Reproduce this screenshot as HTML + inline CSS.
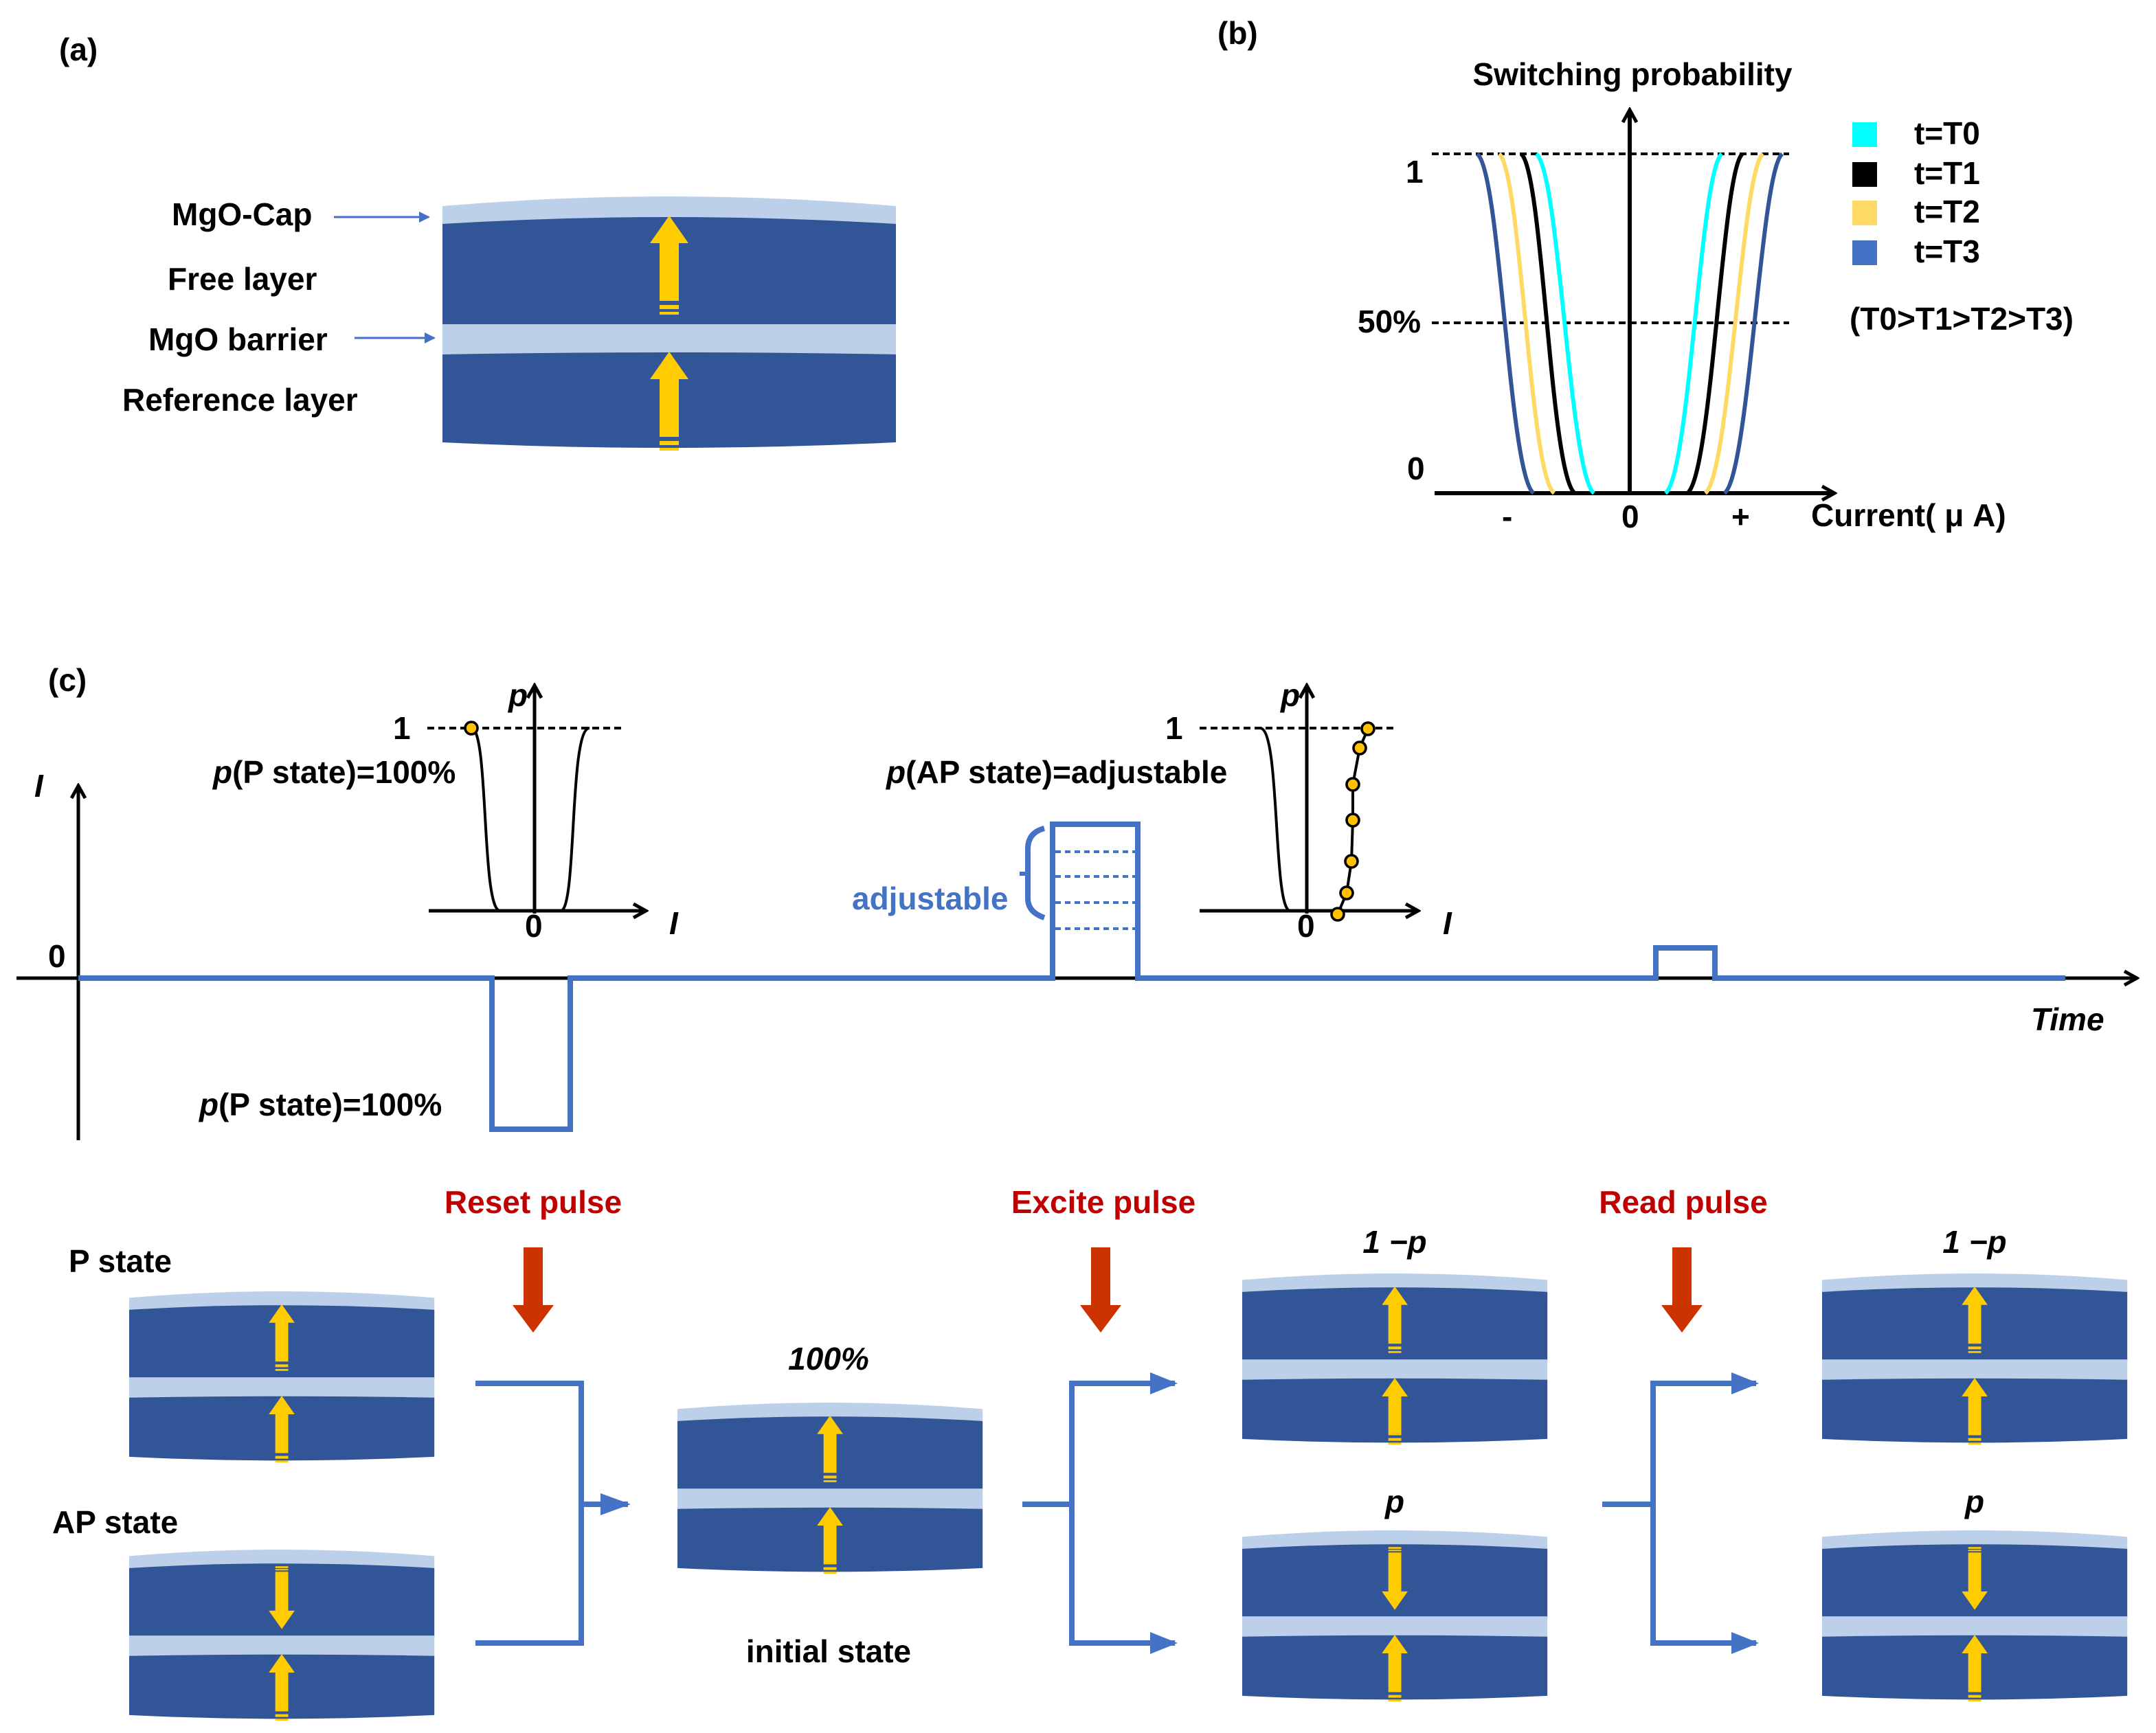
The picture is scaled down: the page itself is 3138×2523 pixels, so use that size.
<!DOCTYPE html>
<html><head><meta charset="utf-8"><style>
html,body{margin:0;padding:0;background:#fff}
svg{display:block}
text{font-family:"Liberation Sans",sans-serif;font-weight:bold;fill:#000;font-size:23px}
.i{font-style:italic}
</style></head><body>
<svg width="3138" height="2523" viewBox="0 0 1569 1261.5" xmlns="http://www.w3.org/2000/svg">
<defs>
<g id="cyl">
<path d="M0,7 Q165,-7 330,7 V30 H0Z" fill="#bdd0e9"/>
<path d="M0,20 Q165,10 330,20 V95 H0Z" fill="#325597"/>
<rect x="0" y="93" width="330" height="23" fill="#bdd0e9"/>
<path d="M0,115 Q165,112 330,115 V179 Q165,187 0,179Z" fill="#325597"/>
</g>
<g id="up">
<polygon points="0,0 14,20 7,20 7,62 -7,62 -7,20 -14,20" fill="#ffcc00"/>
<rect x="-7" y="65" width="14" height="3" fill="#ffcc00"/><rect x="-7" y="70" width="14" height="2" fill="#ffcc00"/>
</g>
<g id="down">
<polygon points="0,68 14,48 7,48 7,6 -7,6 -7,48 -14,48" fill="#ffcc00"/>
<rect x="-7" y="0" width="14" height="2" fill="#ffcc00"/><rect x="-7" y="3" width="14" height="1.5" fill="#ffcc00"/>
</g>
<g id="mP"><use href="#cyl"/><use href="#up" x="165" y="14"/><use href="#up" x="165" y="113"/></g>
<g id="mAP"><use href="#cyl"/><use href="#down" x="165" y="18"/><use href="#up" x="165" y="113"/></g>
<marker id="ab" markerWidth="8" markerHeight="8" refX="7" refY="4" orient="auto" markerUnits="userSpaceOnUse"><path d="M0,0 L8,4 L0,8Z" fill="#4472c4"/></marker>
<marker id="ak" markerWidth="12" markerHeight="12" refX="10" refY="6" orient="auto" markerUnits="userSpaceOnUse"><path d="M1,1 L10,6 L1,11" fill="none" stroke="#000" stroke-width="2.5"/></marker>
<marker id="ab2" markerWidth="22" markerHeight="16" refX="20" refY="8" orient="auto" markerUnits="userSpaceOnUse"><path d="M0,0 L22,8 L0,16Z" fill="#4472c4"/></marker>
<g id="red"><polygon points="-7,0 7,0 7,42 15,42 0,62 -15,42 -7,42" fill="#cc3300"/></g>
</defs>

<!-- (a) -->
<text x="43" y="44">(a)</text>
<use href="#mP" x="322" y="143"/>
<text x="125" y="164">MgO-Cap</text>
<text x="122" y="211">Free layer</text>
<text x="108" y="255">MgO barrier</text>
<text x="89" y="299">Reference layer</text>
<line x1="243" y1="158" x2="312" y2="158" stroke="#4472c4" stroke-width="1.5" marker-end="url(#ab)"/>
<line x1="258" y1="246" x2="316" y2="246" stroke="#4472c4" stroke-width="1.5" marker-end="url(#ab)"/>

<!-- (b) -->
<text x="886" y="32">(b)</text>
<text x="1188" y="62" text-anchor="middle">Switching probability</text>
<line x1="1042" y1="112" x2="1302" y2="112" stroke="#000" stroke-width="2" stroke-dasharray="5,3"/>
<line x1="1042" y1="235" x2="1302" y2="235" stroke="#000" stroke-width="2" stroke-dasharray="5,3"/>
<line x1="1186" y1="360" x2="1186" y2="80" stroke="#000" stroke-width="3" marker-end="url(#ak)"/>
<line x1="1044" y1="359" x2="1335" y2="359" stroke="#000" stroke-width="3" marker-end="url(#ak)"/>
<g fill="none" stroke-width="3">
<path d="M1075,112 C1092,125 1098,345 1116,359" stroke="#325597"/>
<path d="M1091,112 C1107,125 1113,345 1131,359" stroke="#ffd966"/>
<path d="M1107,112 C1123,125 1128,345 1146,359" stroke="#000"/>
<path d="M1118,112 C1135,125 1142,345 1160,359" stroke="#00ffff"/>
<path d="M1253,112 C1237,125 1230,345 1212,359" stroke="#00ffff"/>
<path d="M1268,112 C1253,125 1246,345 1228,359" stroke="#000"/>
<path d="M1283,112 C1267,125 1259,345 1241,359" stroke="#ffd966"/>
<path d="M1297,112 C1281,125 1273,345 1255,359" stroke="#325597"/>
</g>
<text x="1023" y="133">1</text>
<text x="988" y="242">50%</text>
<text x="1024" y="349">0</text>
<text x="1093" y="384">-</text>
<text x="1180" y="384">0</text>
<text x="1260" y="384">+</text>
<text x="1318" y="383">Current( μ A)</text>
<rect x="1348" y="89" width="18" height="18" fill="#00ffff"/>
<rect x="1348" y="118" width="18" height="18" fill="#000"/>
<rect x="1348" y="146" width="18" height="18" fill="#ffd966"/>
<rect x="1348" y="175" width="18" height="18" fill="#4472c4"/>
<text x="1393" y="105">t=T0</text>
<text x="1393" y="134">t=T1</text>
<text x="1393" y="162">t=T2</text>
<text x="1393" y="191">t=T3</text>
<text x="1346" y="240">(T0&gt;T1&gt;T2&gt;T3)</text>

<!-- (c) -->
<text x="35" y="503">(c)</text>
<line x1="57" y1="830" x2="57" y2="572" stroke="#000" stroke-width="2.5" marker-end="url(#ak)"/>
<line x1="12" y1="712" x2="1555" y2="712" stroke="#000" stroke-width="2.5" marker-end="url(#ak)"/>
<text x="25" y="580" class="i">I</text>
<text x="35" y="704">0</text>
<text x="1478" y="750" class="i">Time</text>
<path d="M57,712 H358 V822 H415 V712 H766 V600 H828 V712 H1205 V690 H1248 V712 H1503" fill="none" stroke="#4472c4" stroke-width="4"/>
<g stroke="#4472c4" stroke-width="2" stroke-dasharray="4,3">
<line x1="768" y1="620" x2="826" y2="620"/><line x1="768" y1="638" x2="826" y2="638"/>
<line x1="768" y1="657" x2="826" y2="657"/><line x1="768" y1="676" x2="826" y2="676"/>
</g>
<path d="M760,603 Q748,606 748,618 V654 Q748,664 760,668" fill="none" stroke="#4472c4" stroke-width="4"/>
<line x1="742" y1="636" x2="748" y2="636" stroke="#4472c4" stroke-width="3"/>
<text x="620" y="662" style="fill:#4472c4">adjustable</text>
<text x="155" y="570"><tspan class="i">p</tspan>(P state)=100%</text>
<text x="145" y="812"><tspan class="i">p</tspan>(P state)=100%</text>
<text x="645" y="570"><tspan class="i">p</tspan>(AP state)=adjustable</text>

<!-- inset 1 -->
<line x1="311" y1="530" x2="455" y2="530" stroke="#000" stroke-width="2" stroke-dasharray="5,3"/>
<line x1="389" y1="665" x2="389" y2="499" stroke="#000" stroke-width="2.5" marker-end="url(#ak)"/>
<line x1="312" y1="663" x2="470" y2="663" stroke="#000" stroke-width="2.5" marker-end="url(#ak)"/>
<path d="M343,530 C356,530 350,663 364,663" fill="none" stroke="#000" stroke-width="2"/>
<path d="M429,530 C414,530 420,663 408,663" fill="none" stroke="#000" stroke-width="2"/>
<circle cx="343" cy="530" r="4.5" fill="#ffc000" stroke="#000" stroke-width="1.8"/>
<text x="286" y="538">1</text>
<text x="370" y="514" class="i">p</text>
<text x="382" y="682">0</text>
<text x="487" y="680" class="i">I</text>

<!-- inset 2 -->
<line x1="873" y1="530" x2="1015" y2="530" stroke="#000" stroke-width="2" stroke-dasharray="5,3"/>
<line x1="951" y1="665" x2="951" y2="499" stroke="#000" stroke-width="2.5" marker-end="url(#ak)"/>
<line x1="873" y1="663" x2="1032" y2="663" stroke="#000" stroke-width="2.5" marker-end="url(#ak)"/>
<path d="M917,530 C932,530 926,663 939,663" fill="none" stroke="#000" stroke-width="2"/>
<polyline points="995.5,530.5 989.5,544.5 984.5,571 984.5,597 983.5,627 980,650 973.5,665.5" fill="none" stroke="#000" stroke-width="2"/>
<g fill="#ffc000" stroke="#000" stroke-width="1.8">
<circle cx="995.5" cy="530.5" r="4.5"/><circle cx="989.5" cy="544.5" r="4.5"/><circle cx="984.5" cy="571" r="4.5"/>
<circle cx="984.5" cy="597" r="4.5"/><circle cx="983.5" cy="627" r="4.5"/><circle cx="980" cy="650" r="4.5"/><circle cx="973.5" cy="665.5" r="4.5"/>
</g>
<text x="848" y="538">1</text>
<text x="932" y="514" class="i">p</text>
<text x="944" y="682">0</text>
<text x="1050" y="680" class="i">I</text>

<!-- bottom flow -->
<text x="388" y="883" text-anchor="middle" style="fill:#c00000">Reset pulse</text>
<text x="803" y="883" text-anchor="middle" style="fill:#c00000">Excite pulse</text>
<text x="1225" y="883" text-anchor="middle" style="fill:#c00000">Read pulse</text>
<use href="#red" x="388" y="908"/>
<use href="#red" x="801" y="908"/>
<use href="#red" x="1224" y="908"/>
<text x="50" y="926">P state</text>
<text x="38" y="1116">AP state</text>
<g transform="translate(94,940) scale(0.673)"><use href="#mP"/></g>
<g transform="translate(94,1128) scale(0.673)"><use href="#mAP"/></g>
<g transform="translate(493,1021) scale(0.673)"><use href="#mP"/></g>
<g transform="translate(904,927) scale(0.673)"><use href="#mP"/></g>
<g transform="translate(904,1114) scale(0.673)"><use href="#mAP"/></g>
<g transform="translate(1326,927) scale(0.673)"><use href="#mP"/></g>
<g transform="translate(1326,1114) scale(0.673)"><use href="#mAP"/></g>
<text x="603" y="997" class="i" text-anchor="middle">100%</text>
<text x="603" y="1210" text-anchor="middle">initial state</text>
<text x="1015" y="912" class="i" text-anchor="middle">1 −p</text>
<text x="1437" y="912" class="i" text-anchor="middle">1 −p</text>
<text x="1015" y="1101" class="i" text-anchor="middle">p</text>
<text x="1437" y="1101" class="i" text-anchor="middle">p</text>
<g fill="none" stroke="#4472c4" stroke-width="4">
<path d="M346,1007 H423 V1196 H346"/>
<line x1="423" y1="1095" x2="457" y2="1095" marker-end="url(#ab2)"/>
<line x1="744" y1="1095" x2="780" y2="1095"/>
<path d="M855,1007 H780 V1196 H855"/>
<line x1="1166" y1="1095" x2="1203" y2="1095"/>
<path d="M1278,1007 H1203 V1196 H1278"/>
</g>
<g fill="#4472c4">
<path d="M837,999 L857,1007 L837,1015Z"/><path d="M837,1188 L857,1196 L837,1204Z"/>
<path d="M1260,999 L1280,1007 L1260,1015Z"/><path d="M1260,1188 L1280,1196 L1260,1204Z"/>
</g>
</svg>
</body></html>
